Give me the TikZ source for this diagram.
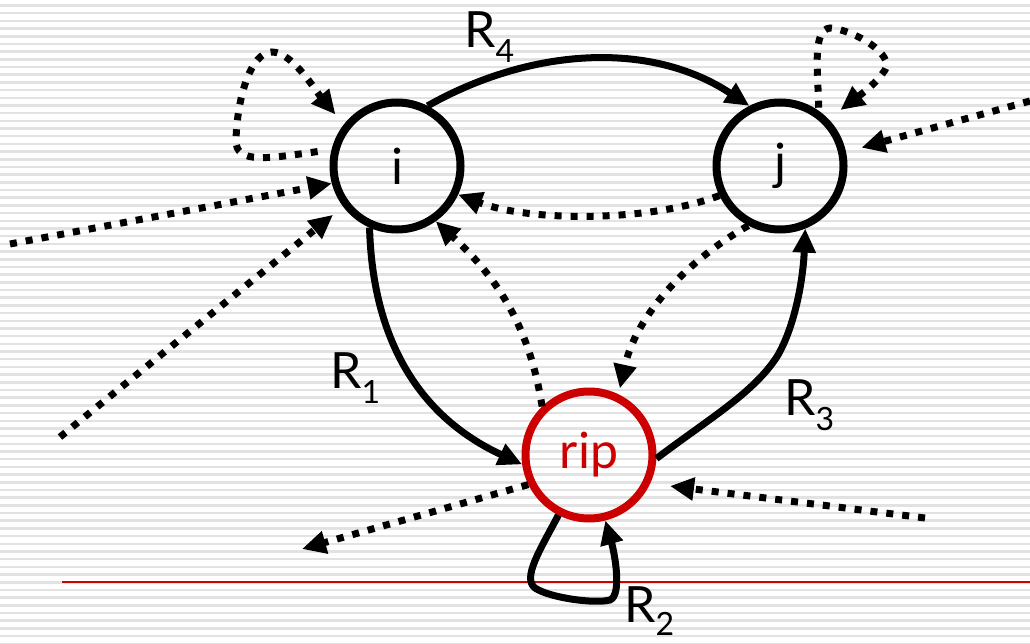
\documentclass[tikz,border=0pt]{standalone}
\usepackage{fontspec}
\setmainfont{Lato}
\usetikzlibrary{arrows.meta}
\definecolor{stripecol}{RGB}{226,226,226}
\definecolor{ripred}{RGB}{204,0,0}
\newcommand\lsub[1]{\raisebox{-15pt}{\fontsize{32}{38}\selectfont #1}}
\newcommand\lsubb[1]{\raisebox{-13pt}{\fontsize{32}{38}\selectfont #1}}
\begin{document}
\begin{tikzpicture}[x=1pt,y=-1pt,
  state/.style={circle,draw,line width=8pt,minimum size=127pt,inner sep=0pt,font=\fontsize{50}{60}\selectfont},
  solidarr/.style={line width=7pt,-{Triangle[length=24pt,width=22pt]}},
  dotarr/.style={line width=7pt,dash pattern=on 7pt off 9pt,-{Triangle[length=24pt,width=22pt]}},
  lbl/.style={inner sep=0pt,anchor=base west,font=\fontsize{50}{60}\selectfont}]
\fill[white] (0,0) rectangle (1030,644);
\useasboundingbox (0,0) rectangle (1030,644);
\foreach \k in {0,...,83} \draw[stripecol,line width=2.5pt] (0,{5.5+7.69*\k}) -- (1030,{5.5+7.69*\k});
\draw[ripred,line width=1.3pt] (62,582) -- (1030,582);

\node[state] (i) at (397,166) {i};
\node[state] (j) at (780,166) {j};
\node[state,draw=ripred,text=ripred] (rip) at (589,455) {rip};

% solid connectors
\draw[solidarr] (i.63) .. controls (530,48) and (650,40) .. (j.117);
\draw[solidarr] (i.246) .. controls (372,320) and (405,410) .. (rip.188);
\draw[solidarr] (rip.357) .. controls (710,418) and (755,392) .. (778,355) .. controls (795,325) and (803,280) .. (j.292);
\draw[solidarr] (rip.243) .. controls (540,550) and (522,578) .. (535,588) .. controls (550,598) and (595,604) .. (610,600) .. controls (622,595) and (615,555) .. (rip.284);

% dotted self loops
\draw[dotarr,shorten <=14pt,shorten >=13pt] (i.166) .. controls (270,158) and (235,165) .. (236,140) .. controls (237,100) and (250,52) .. (272,52) .. controls (292,52) and (315,90) .. (i.142);
\draw[dotarr,shorten <=3pt,shorten >=15pt] (j.55) .. controls (818,70) and (812,30) .. (830,28) .. controls (855,30) and (895,55) .. (885,70) .. controls (875,85) and (860,95) .. (j.44);

% dotted connectors between nodes
\draw[dotarr] (j.206) .. controls (650,222) and (530,222) .. (i.335);
\draw[dotarr] (rip.134) .. controls (530,330) and (500,280) .. (i.305);
\draw[dotarr,shorten >=6pt] (j.242) .. controls (680,265) and (635,320) .. (rip.64);

% dotted free ends
\coordinate (L1) at (10,244);
\coordinate (L2) at (60,437);
\coordinate (RT) at (1030,101);
\coordinate (RB) at (925,518);
\coordinate (OUT) at (302,549);
\draw[dotarr] (L1) -- (i.195);
\draw[dotarr,shorten >=13pt] (L2) -- (i.217);
\draw[dotarr,shorten >=16pt] (RT) -- (j.12);
\draw[dotarr,shorten >=20pt] (RB) -- (rip.-25);
\draw[dotarr] (rip.206) -- (OUT);

% labels
\node[lbl] (r4) at (464,48) {R\lsub{4}};
\node[lbl] (r1) at (330,388) {R\lsub{1}};
\node[lbl] (r3) at (784,415) {R\lsub{3}};
\node[lbl] (r2) at (624,622) {R\lsubb{2}};
\end{tikzpicture}
\end{document}
